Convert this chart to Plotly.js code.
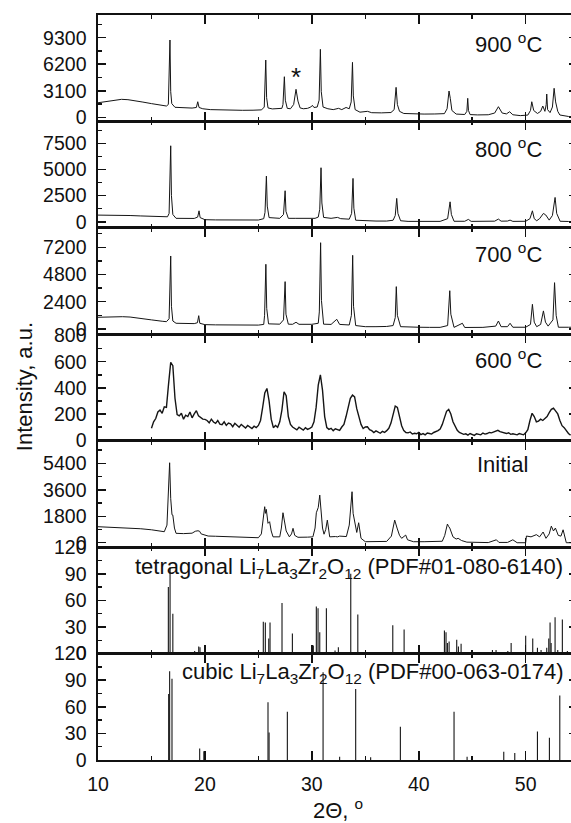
<!DOCTYPE html>
<html><head><meta charset="utf-8">
<script src="https://cdn.plot.ly/plotly-3.0.1.min.js"></script>
<style>html,body{margin:0;padding:0;overflow:hidden;background:#fff;width:571px;height:823px}</style>
</head><body><div id="chart" style="width:590px;height:823px"></div>
<script>
// 2-theta / intensity pairs
const p900 = [[10.0,1700],[10.5,1800],[11.0,1950],[11.5,2030],[12.2,2100],[12.8,2060],[13.5,1950],[14.2,1780],[15.0,1600],[15.8,1420],[16.4,1320],[16.58,1500],[16.73,9030],[16.8,3000],[16.9,1600],[17.2,1170],[18.0,1100],[18.8,1080],[19.2,1150],[19.33,1820],[19.45,1150],[19.8,1000],[20.5,900],[21.0,880],[21.4,950],[21.7,860],[22.5,840],[23.5,820],[24.5,830],[25.3,870],[25.55,1200],[25.69,6690],[25.77,2300],[25.9,1100],[26.3,980],[26.8,970],[27.2,1050],[27.3,1500],[27.43,4740],[27.52,2000],[27.7,1050],[28.0,1000],[28.3,1500],[28.52,3270],[28.7,1900],[28.9,1100],[29.2,1000],[29.6,1050],[29.9,1200],[30.05,1400],[30.2,1150],[30.5,1200],[30.68,2000],[30.8,7940],[30.88,3000],[31.05,1200],[31.5,1000],[32.0,900],[32.5,1050],[32.8,900],[33.2,1150],[33.5,1000],[33.68,1800],[33.8,6420],[33.88,2500],[34.05,900],[34.5,600],[35.2,700],[35.6,540],[36.5,520],[37.4,560],[37.7,900],[37.88,3500],[38.0,1500],[38.2,700],[38.6,450],[39.5,400],[40.5,380],[41.5,390],[42.4,430],[42.65,1000],[42.83,3070],[42.95,2200],[43.1,800],[43.5,380],[44.3,330],[44.5,700],[44.58,2220],[44.65,800],[44.8,320],[45.5,280],[46.5,300],[47.1,500],[47.45,1240],[47.8,500],[48.2,400],[48.5,650],[48.8,300],[49.5,200],[50.2,260],[50.45,800],[50.57,1820],[50.75,800],[51.1,450],[51.4,700],[51.6,1320],[51.8,700],[51.92,1500],[51.97,2720],[52.05,900],[52.28,550],[52.5,1200],[52.66,3390],[52.8,1800],[53.0,700],[53.2,270],[54.0,100],[54.8,70]];

const p800 = [[10.0,640],[11.0,650],[12.0,640],[13.0,600],[14.0,560],[15.0,520],[16.0,490],[16.5,480],[16.65,800],[16.8,7270],[16.87,2500],[17.0,700],[17.3,330],[18.0,300],[19.0,320],[19.32,450],[19.45,1050],[19.55,400],[20.0,200],[21.0,180],[22.0,160],[23.0,150],[24.0,160],[25.0,170],[25.5,300],[25.62,900],[25.75,4370],[25.83,1500],[26.0,400],[26.5,330],[27.0,330],[27.35,700],[27.5,2970],[27.58,1000],[27.8,330],[28.5,330],[29.5,330],[30.05,400],[30.3,330],[30.6,450],[30.74,1200],[30.86,5170],[30.94,1800],[31.1,420],[31.8,330],[32.4,420],[32.7,300],[33.5,250],[33.72,800],[33.85,4150],[33.93,1300],[34.1,150],[35.0,80],[36.0,70],[37.0,70],[37.6,150],[37.8,600],[37.94,2240],[38.05,800],[38.3,100],[39.0,40],[40.0,30],[41.0,30],[42.0,40],[42.7,300],[42.93,1910],[43.05,700],[43.3,50],[44.3,50],[44.64,230],[44.9,40],[46.0,40],[47.1,60],[47.45,260],[47.7,60],[48.3,70],[48.54,160],[48.8,40],[50.0,50],[50.4,300],[50.63,1050],[50.8,300],[51.03,100],[51.3,300],[51.66,800],[51.88,650],[52.2,160],[52.5,600],[52.75,2330],[52.9,800],[53.22,50],[54.0,30],[54.8,20]];

const p700 = [[10.0,1030],[11.0,1060],[12.3,1080],[13.0,1050],[14.0,950],[15.0,800],[16.0,680],[16.4,640],[16.65,900],[16.8,6430],[16.87,2000],[17.0,700],[17.3,500],[18.0,470],[19.0,470],[19.3,550],[19.42,1170],[19.52,500],[20.0,380],[21.0,360],[22.0,350],[23.0,340],[24.0,340],[25.0,340],[25.5,400],[25.58,1200],[25.7,5700],[25.78,1800],[25.95,450],[26.5,420],[27.0,420],[27.35,800],[27.5,4170],[27.58,1300],[27.8,420],[28.2,410],[28.52,590],[28.8,410],[30.0,410],[30.6,500],[30.7,1500],[30.82,7600],[30.9,2500],[31.1,420],[31.8,400],[32.33,850],[32.6,400],[33.5,350],[33.7,1200],[33.82,6490],[33.9,2000],[34.1,300],[35.0,200],[36.0,200],[37.0,220],[37.6,300],[37.8,1000],[37.9,3730],[38.0,1200],[38.3,200],[39.0,160],[40.0,150],[41.0,140],[42.0,140],[42.7,300],[42.9,3370],[43.0,1300],[43.3,140],[44.08,500],[44.3,130],[46.0,140],[47.2,250],[47.45,700],[47.7,200],[48.3,200],[48.54,500],[48.8,150],[50.0,150],[50.45,400],[50.63,2170],[50.8,600],[51.03,200],[51.4,400],[51.66,1590],[51.85,600],[52.1,250],[52.55,800],[52.7,4080],[52.85,1200],[53.06,150],[54.0,150],[54.8,150]];

const tt600 = [15.0,15.2,15.4,15.6,15.8,16.0,16.2,16.4,16.6,16.8,17.0,17.2,17.4,17.6,17.8,18.0,18.2,18.4,18.6,18.8,19.0,19.2,19.4,19.6,19.8,20.0,20.2,20.4,20.6,20.8,21.0,21.2,21.4,21.6,21.8,22.0,22.2,22.4,22.6,22.8,23.0,23.2,23.4,23.6,23.8,24.0,24.2,24.4,24.6,24.8,25.0,25.2,25.4,25.6,25.8,26.0,26.2,26.4,26.6,26.8,27.0,27.2,27.4,27.6,27.8,28.0,28.2,28.4,28.6,28.8,29.0,29.2,29.4,29.6,29.8,30.0,30.2,30.4,30.6,30.8,31.0,31.2,31.4,31.6,31.8,32.0,32.2,32.4,32.6,32.8,33.0,33.2,33.4,33.6,33.8,34.0,34.2,34.4,34.6,34.8,35.0,35.2,35.4,35.6,35.8,36.0,36.2,36.4,36.6,36.8,37.0,37.2,37.4,37.6,37.8,38.0,38.2,38.4,38.6,38.8,39.0,39.2,39.4,39.6,39.8,40.0,40.2,40.4,40.6,40.8,41.0,41.2,41.4,41.6,41.8,42.0,42.2,42.4,42.6,42.8,43.0,43.2,43.4,43.6,43.8,44.0,44.2,44.4,44.6,44.8,45.0,45.2,45.4,45.6,45.8,46.0,46.2,46.4,46.6,46.8,47.0,47.2,47.4,47.6,47.8,48.0,48.2,48.4,48.6,48.8,49.0,49.2,49.4,49.6,49.8,50.0,50.2,50.4,50.6,50.8,51.0,51.2,51.4,51.6,51.8,52.0,52.2,52.4,52.6,52.8,53.0,53.2,53.4,53.6,53.8,54.0,54.2];
const i600 = [90,140,165,215,230,205,255,250,
  430,595,570,320,
  195,185,205,160,190,180,215,170,200,225,185,170,160,
  158,150,132,160,138,128,150,122,118,140,112,130,124,102,128,110,98,120,104,92,112,100,88,106,96,
  112,150,250,360,395,300,160,
  95,112,98,140,230,370,340,180,
  120,100,92,78,98,84,76,94,82,90,
  100,140,250,420,500,380,180,
  96,82,90,72,86,80,74,100,
  120,180,260,320,345,330,240,180,120,88,
  100,102,80,72,58,70,62,52,66,58,
  72,90,130,200,260,250,170,110,
  72,58,55,62,46,52,48,58,42,50,40,54,50,46,58,64,72,
  85,120,170,220,235,200,140,100,
  75,58,52,44,48,38,50,42,36,48,44,40,54,46,50,58,55,
  62,66,74,64,58,52,50,56,44,48,46,40,50,44,40,
  55,80,150,205,180,140,145,160,150,165,180,210,235,245,225,200,150,110,95,70,50,38];

const pInit = [[10.0,1090],[11.0,1060],[12.0,1040],[13.0,1010],[14.0,950],[15.0,880],[15.8,790],[16.2,750],[16.45,1200],[16.6,3500],[16.7,5440],[16.8,3000],[16.92,1900],[17.0,1880],[17.15,1000],[17.3,640],[18.0,620],[18.8,650],[19.1,780],[19.35,815],[19.5,780],[19.65,600],[20.3,455],[21.0,440],[22.0,420],[23.0,390],[24.0,360],[25.0,340],[25.28,600],[25.45,1600],[25.59,2450],[25.66,2000],[25.74,2270],[25.9,1320],[26.05,1430],[26.2,800],[26.37,400],[27.0,400],[27.15,1000],[27.3,2040],[27.45,1300],[27.6,800],[27.9,400],[28.1,600],[28.24,980],[28.4,500],[28.7,370],[29.2,360],[29.6,380],[30.1,400],[30.3,1000],[30.42,2040],[30.6,2400],[30.74,3240],[30.85,2450],[31.0,1000],[31.14,580],[31.3,900],[31.45,1540],[31.55,800],[31.67,400],[32.2,420],[32.4,400],[32.6,450],[33.0,400],[33.23,420],[33.5,1200],[33.76,3470],[33.86,2000],[34.0,1470],[34.2,700],[34.38,1360],[34.5,600],[34.6,300],[35.0,70],[36.0,70],[37.0,90],[37.44,450],[37.6,1000],[37.75,1540],[37.97,1000],[38.2,500],[38.4,300],[38.78,520],[38.95,200],[39.5,70],[40.5,70],[41.5,60],[42.2,100],[42.43,500],[42.68,1270],[42.8,1100],[42.9,1000],[43.2,400],[43.5,250],[43.68,300],[44.0,150],[44.5,40],[45.5,0],[46.5,10],[47.26,200],[47.5,20],[48.3,20],[48.8,200],[49.2,0],[50.0,0],[50.07,455],[50.5,400],[51.0,550],[51.3,400],[51.63,730],[51.9,300],[52.2,600],[52.4,1130],[52.6,800],[52.78,1000],[53.05,500],[53.3,450],[53.5,880],[53.7,200],[53.8,0],[54.8,0]];

// reference stick patterns
const tetraPos = [16.58,16.74,17.0,19.04,19.42,19.54,25.46,25.65,25.97,26.09,27.21,28.18,30.14,30.42,30.58,30.74,31.36,32.17,32.48,33.64,34.3,37.57,38.63,42.4,42.55,42.68,42.84,43.55,43.71,43.96,46.89,47.23,48.33,48.64,50.0,50.66,51.1,51.44,51.97,52.16,52.28,52.38,52.75,53.0,53.43,53.9];
const tetraInt = [75,97,45,3,8,7,36,35,17,35,57,22.5,9,53,51,24,51,3.5,7,90,44,32,27,26,24,12,13.5,15.5,8,11,4,4,3,12,20,17,6.5,4,6.5,17,35,12,41,4,38.5,3];
const cubicPos = [16.61,16.7,16.92,19.51,19.9,25.9,26.0,27.71,31.05,32.6,34.1,35.5,38.28,43.3,44.52,47.95,48.98,51.1,52.22,53.19];
const cubicInt = [74.5,100,91.5,13,10,65,31,54.5,99,3.7,80,3,37.6,54.5,3.7,9.3,8,32,25,72.6];

const yRanges = [[-480,11950],[-580,9600],[-470,8910],[-5,810],[-300,6940],[0,120],[0,120]];
const yDticks = [3100,2500,2400,200,1800,30,30];
const labels = ['900 <sup>o</sup>C','800 <sup>o</sup>C','700 <sup>o</sup>C','600 <sup>o</sup>C','Initial'];

const FONT = 'Liberation Sans, Arial, sans-serif';
function ax(i){ return i===1 ? '' : String(i); }
function lineTrace(xv, yv, i, w){
  return {x:xv, y:yv, type:'scatter', mode:'lines', line:{color:'#151515', width:w},
          xaxis:'x'+ax(i), yaxis:'y'+ax(i), hoverinfo:'skip', showlegend:false};
}
function pairsTrace(pairs, i, w){ return lineTrace(pairs.map(p=>p[0]), pairs.map(p=>p[1]), i, w); }
function stickTrace(pos, inten, i){
  const xv=[], yv=[];
  pos.forEach((p,k)=>{ xv.push(p,p,null); yv.push(0,inten[k],null); });
  return lineTrace(xv, yv, i, 1.1);
}

const data = [
  pairsTrace(p900,1,1), pairsTrace(p800,2,1), pairsTrace(p700,3,1),
  lineTrace(tt600, i600, 4, 1.4), pairsTrace(pInit,5,1),
  stickTrace(tetraPos, tetraInt, 6), stickTrace(cubicPos, cubicInt, 7)
];

const layout = {
  width:590, height:823, margin:{l:98, r:13, t:15, b:63},
  paper_bgcolor:'#fff', plot_bgcolor:'#fff', showlegend:false,
  font:{family:FONT, size:19.5, color:'#111'},
  annotations:[]
};
for(let i=1;i<=7;i++){
  const top = 1-(i-1)/7, bot = 1-i/7;
  layout['xaxis'+ax(i)] = {
    domain:[0,1], anchor:'y'+ax(i), range:[10,54.8], tick0:10, dtick:10,
    ticks:'inside', ticklen:9, tickwidth:1.5, tickcolor:'#111',
    minor:{ticks:'inside', ticklen:4, dtick:5, tickwidth:1.5, tickcolor:'#111'},
    showline:true, linewidth:1.6, linecolor:'#111', mirror:'ticks',
    showgrid:false, zeroline:false, showticklabels:(i===7),
    tickfont:{size:19.5}, ticklabelstandoff:6, tickformat:'d'
  };
  layout['yaxis'+ax(i)] = {
    domain:[bot,top], anchor:'x'+ax(i), range:yRanges[i-1], tick0:0, dtick:yDticks[i-1],
    ticks:'inside', ticklen:8, tickwidth:1.5, tickcolor:'#111',
    minor:{ticks:'inside', ticklen:4, dtick:yDticks[i-1]/2, tickwidth:1.5, tickcolor:'#111'},
    showline:true, linewidth:1.6, linecolor:'#111', mirror:'ticks',
    showgrid:false, zeroline:false, tickfont:{size:19.5}, ticklabelstandoff:6, tickformat:'d'
  };
}
const labY = [0.9624,0.8215,0.6805,0.5383,0.396];
labels.forEach((t,k)=>{
  layout.annotations.push({text:t, xref:'paper', yref:'paper', x:(k===4?0.787:0.783), y:labY[k],
    xanchor:'left', yanchor:'middle', showarrow:false, font:{size:22, color:'#111'}});
});
layout.annotations.push({text:'tetragonal Li<sub>7</sub>La<sub>3</sub>Zr<sub>2</sub>O<sub>12</sub> (PDF#01-080-6140)',
  xref:'paper', yref:'paper', x:0.0731, y:0.258, xanchor:'left', yanchor:'middle', showarrow:false, font:{size:22, color:'#111'}});
layout.annotations.push({text:'cubic Li<sub>7</sub>La<sub>3</sub>Zr<sub>2</sub>O<sub>12</sub> (PDF#00-063-0174)',
  xref:'paper', yref:'paper', x:0.1712, y:0.117, xanchor:'left', yanchor:'middle', showarrow:false, font:{size:22, color:'#111'}});
layout.annotations.push({text:'*', xref:'paper', yref:'paper', x:0.4134, y:0.9168,
  xanchor:'center', yanchor:'middle', showarrow:false, font:{size:26, color:'#111'}});
layout.annotations.push({text:'Intensity, a.u.', xref:'paper', yref:'paper', x:-0.152, y:0.5007,
  xanchor:'center', yanchor:'middle', textangle:-90, showarrow:false, font:{size:22, color:'#111'}});
layout.annotations.push({text:'2Θ, <sup>o</sup>', xref:'paper', yref:'paper', x:0.5, y:-0.066,
  xanchor:'center', yanchor:'middle', showarrow:false, font:{size:22, color:'#111'}});

Plotly.newPlot('chart', data, layout, {staticPlot:true, displayModeBar:false});
</script></body></html>
